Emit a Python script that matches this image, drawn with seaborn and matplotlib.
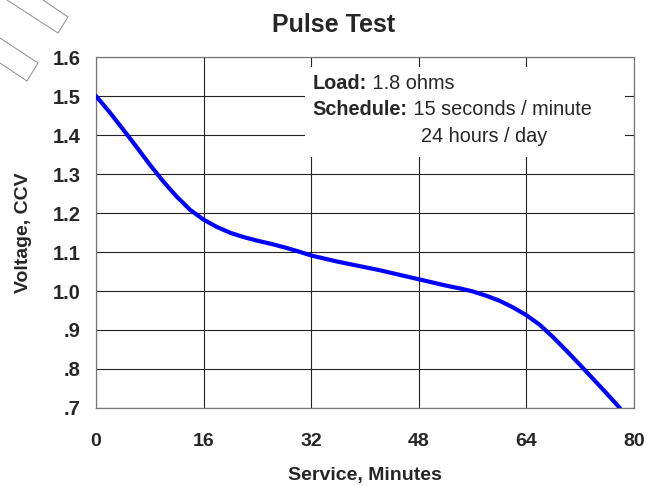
import numpy as np
import pandas as pd
import matplotlib
matplotlib.use('Agg')
import matplotlib.pyplot as plt
import seaborn as sns
from matplotlib.lines import Line2D
from matplotlib.patches import Rectangle

# dados (tempo de servico em minutos x tensao CCV)
minutos = [0, 2, 4, 6, 8, 10, 12, 14, 16, 18, 20, 22, 24, 26, 28, 30, 32, 34,
           36, 38, 40, 42, 44, 46, 48, 50, 52, 54, 56, 58, 60, 62, 64, 66, 68,
           70, 72, 74, 76, 77.9]
tensao = [1.500, 1.459, 1.415, 1.370, 1.324, 1.281, 1.242, 1.208, 1.183, 1.164,
          1.149, 1.138, 1.129, 1.121, 1.112, 1.102, 1.091, 1.083, 1.075, 1.068,
          1.061, 1.054, 1.046, 1.038, 1.030, 1.022, 1.014, 1.007, 0.999, 0.988,
          0.975, 0.958, 0.938, 0.913, 0.881, 0.846, 0.810, 0.773, 0.736, 0.700]
xticks = [0, 16, 32, 48, 64, 80]
yticks = [0.7, 0.8, 0.9, 1.0, 1.1, 1.2, 1.3, 1.4, 1.5, 1.6]
ylabels = ['.7', '.8', '.9', '1.0', '1.1', '1.2', '1.3', '1.4', '1.5', '1.6']

df = pd.DataFrame({'Minutos': minutos, 'Tensao': tensao})

sns.set_style('white')
plt.rcParams['font.family'] = ['Liberation Sans', 'DejaVu Sans']

fig = plt.figure(figsize=(6.63, 4.86), dpi=100)
ax = fig.add_axes([0.1448, 0.1605, 0.8115, 0.7222])

sns.lineplot(data=df, x='Minutos', y='Tensao', ax=ax, color='#0000ff',
             linewidth=3.0, zorder=5)

ax.set_xlim(0, 80)
ax.set_ylim(0.7, 1.6)
ax.set_xticks(xticks)
ax.set_yticks(yticks)
ax.set_xticklabels([str(t) for t in xticks], fontsize=14, fontweight='bold')
ax.set_yticklabels(ylabels, fontsize=14.5, fontweight='bold')
ax.tick_params(axis='x', direction='out', length=5, width=0.8, color='#555555', pad=13)
ax.tick_params(axis='y', length=0, pad=11)

ax.grid(True, color='#222222', linewidth=0.8)
ax.set_axisbelow(True)
for s in ax.spines.values():
    s.set_color('#777777')
    s.set_linewidth(0.9)

ax.set_xlabel('Service, Minutes', fontsize=14, fontweight='bold', labelpad=12)
ax.set_ylabel('Voltage, CCV', fontsize=14, fontweight='bold', labelpad=15)
ax.set_title('Pulse Test', fontsize=18, fontweight='bold', pad=18, x=0.442)

# caixa branca com as condicoes do teste
ax.add_patch(Rectangle((0.3885, 0.715), 0.5945, 0.2565, transform=ax.transAxes,
                       facecolor='white', edgecolor='none', zorder=3))
fs = 14.3
linhas = [(0.403, 0.925, 'Load:', ' 1.8 ohms'),
          (0.403, 0.85, 'Schedule:', ' 15 seconds / minute')]
fig.canvas.draw()
rend = fig.canvas.get_renderer()
for x0, y0, negrito, normal in linhas:
    t = ax.text(x0, y0, negrito, transform=ax.transAxes, fontsize=fs,
                fontweight='bold', va='center', zorder=4)
    bb = t.get_window_extent(renderer=rend)
    x1 = ax.transAxes.inverted().transform((bb.x1, bb.y0))[0]
    ax.text(x1, y0, normal, transform=ax.transAxes, fontsize=fs,
            va='center', zorder=4)
ax.text(0.604, 0.773, '24 hours / day', transform=ax.transAxes,
        fontsize=fs, va='center', zorder=4)

# marcas diagonais no canto superior esquerdo
W, H = 663, 486
def linha(pts):
    xs = [p[0] / W for p in pts]
    ys = [1 - p[1] / H for p in pts]
    fig.add_artist(Line2D(xs, ys, color='#999999', linewidth=0.8))

linha([(7, 0), (58, 33), (68, 17), (43, 0)])
linha([(0, 38), (38, 63), (27, 81), (0, 63)])

fig.savefig('out.png', dpi=100)
